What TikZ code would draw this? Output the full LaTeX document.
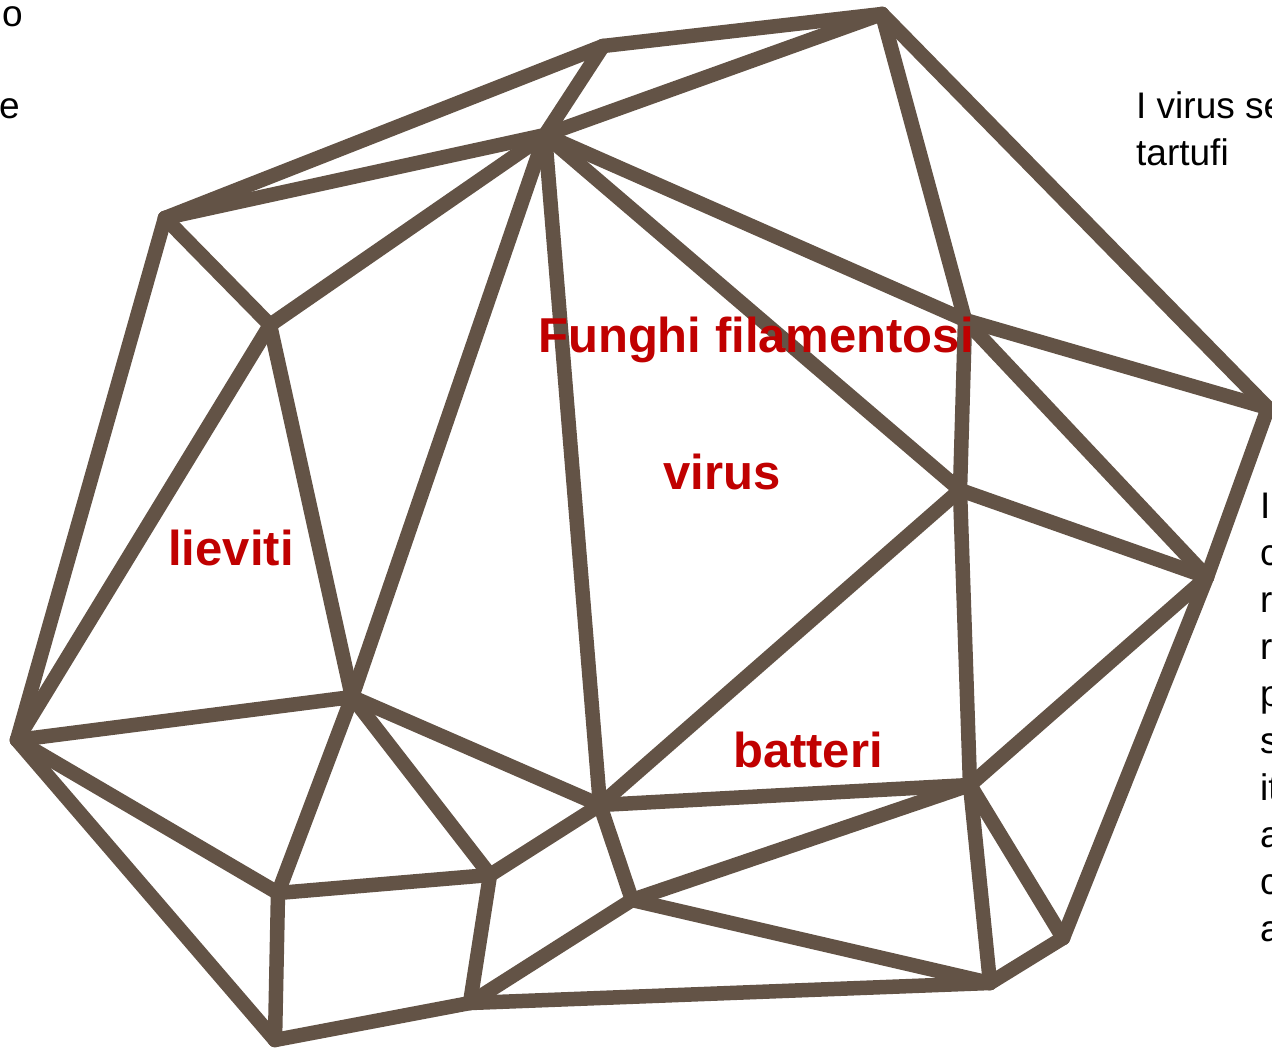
\documentclass[tikz,border=0pt]{standalone}
\usepackage{fontspec}
\setmainfont{Liberation Sans}
\definecolor{frame}{RGB}{99,83,70}
\definecolor{label}{RGB}{192,0,0}
\tikzset{
  edge/.style={draw=frame, line width=14.5pt, line cap=round, line join=round},
  group/.style={text=label, font=\fontsize{49}{58}\selectfont\bfseries, inner sep=0pt, anchor=base},
  note/.style={font=\fontsize{37}{47}\selectfont, align=left, inner sep=0pt, anchor=base west}
}

\begin{document}
\begin{tikzpicture}[x=1pt, y=-1pt]
\useasboundingbox (0,0) rectangle (1272,1048);
\clip (0,0) rectangle (1272,1048);

% vertices of the net
\coordinate (top) at (882,14);
\coordinate (ridge) at (603,46);
\coordinate (hub) at (545,135);
\coordinate (nw) at (165,218);
\coordinate (wk) at (270,325);
\coordinate (ne) at (965,320);
\coordinate (east) at (1268,408);
\coordinate (mid) at (960,490);
\coordinate (se) at (1207,577);
\coordinate (west) at (17,740);
\coordinate (cw) at (352,697);
\coordinate (cs) at (600,805);
\coordinate (cm) at (970,785);
\coordinate (sw) at (278,893);
\coordinate (bw) at (490,875);
\coordinate (bs) at (632,900);
\coordinate (be) at (1063,938);
\coordinate (bot) at (470,1003);
\coordinate (bse) at (990,983);
\coordinate (foot) at (275,1040);

% edges
\foreach \a/\b in {top/ridge, ridge/nw, ridge/hub, hub/top, nw/hub, top/east, top/ne,
  hub/ne, ne/east, hub/mid, ne/mid, ne/se, mid/se, east/se, se/be, se/cm,
  mid/cm, mid/cs, hub/cs, hub/cw, hub/wk, nw/wk, nw/west, wk/west, wk/cw,
  west/cw, west/sw, west/foot, cw/sw, cw/bw, cw/cs, sw/bw, sw/foot, bw/cs,
  bw/bot, cs/cm, cs/bs, bs/cm, bs/bot, bs/bse, cm/bse, cm/be, be/bse,
  bot/bse, foot/bot}
  \draw[edge] (\a) -- (\b);

% labels
\node[group] (fungi) at (756,353) {Funghi filamentosi};
\node[group] (vir) at (722,489) {virus};
\node[group] (yeast) at (231,565) {lieviti};
\node[group] (bact) at (808,767) {batteri};

% text cut by the edges
\node[note] (leftA) at (2,27) {o};
\node[note] (leftB) at (-1,119) {e};
\node[note] (rightA) at (1136,166) {I virus se\\tartufi};
\node[note] (rightB) at (1260,941) {I\\c\\r\\r\\p\\s\\it\\a\\c\\a};
\end{tikzpicture}
\end{document}
